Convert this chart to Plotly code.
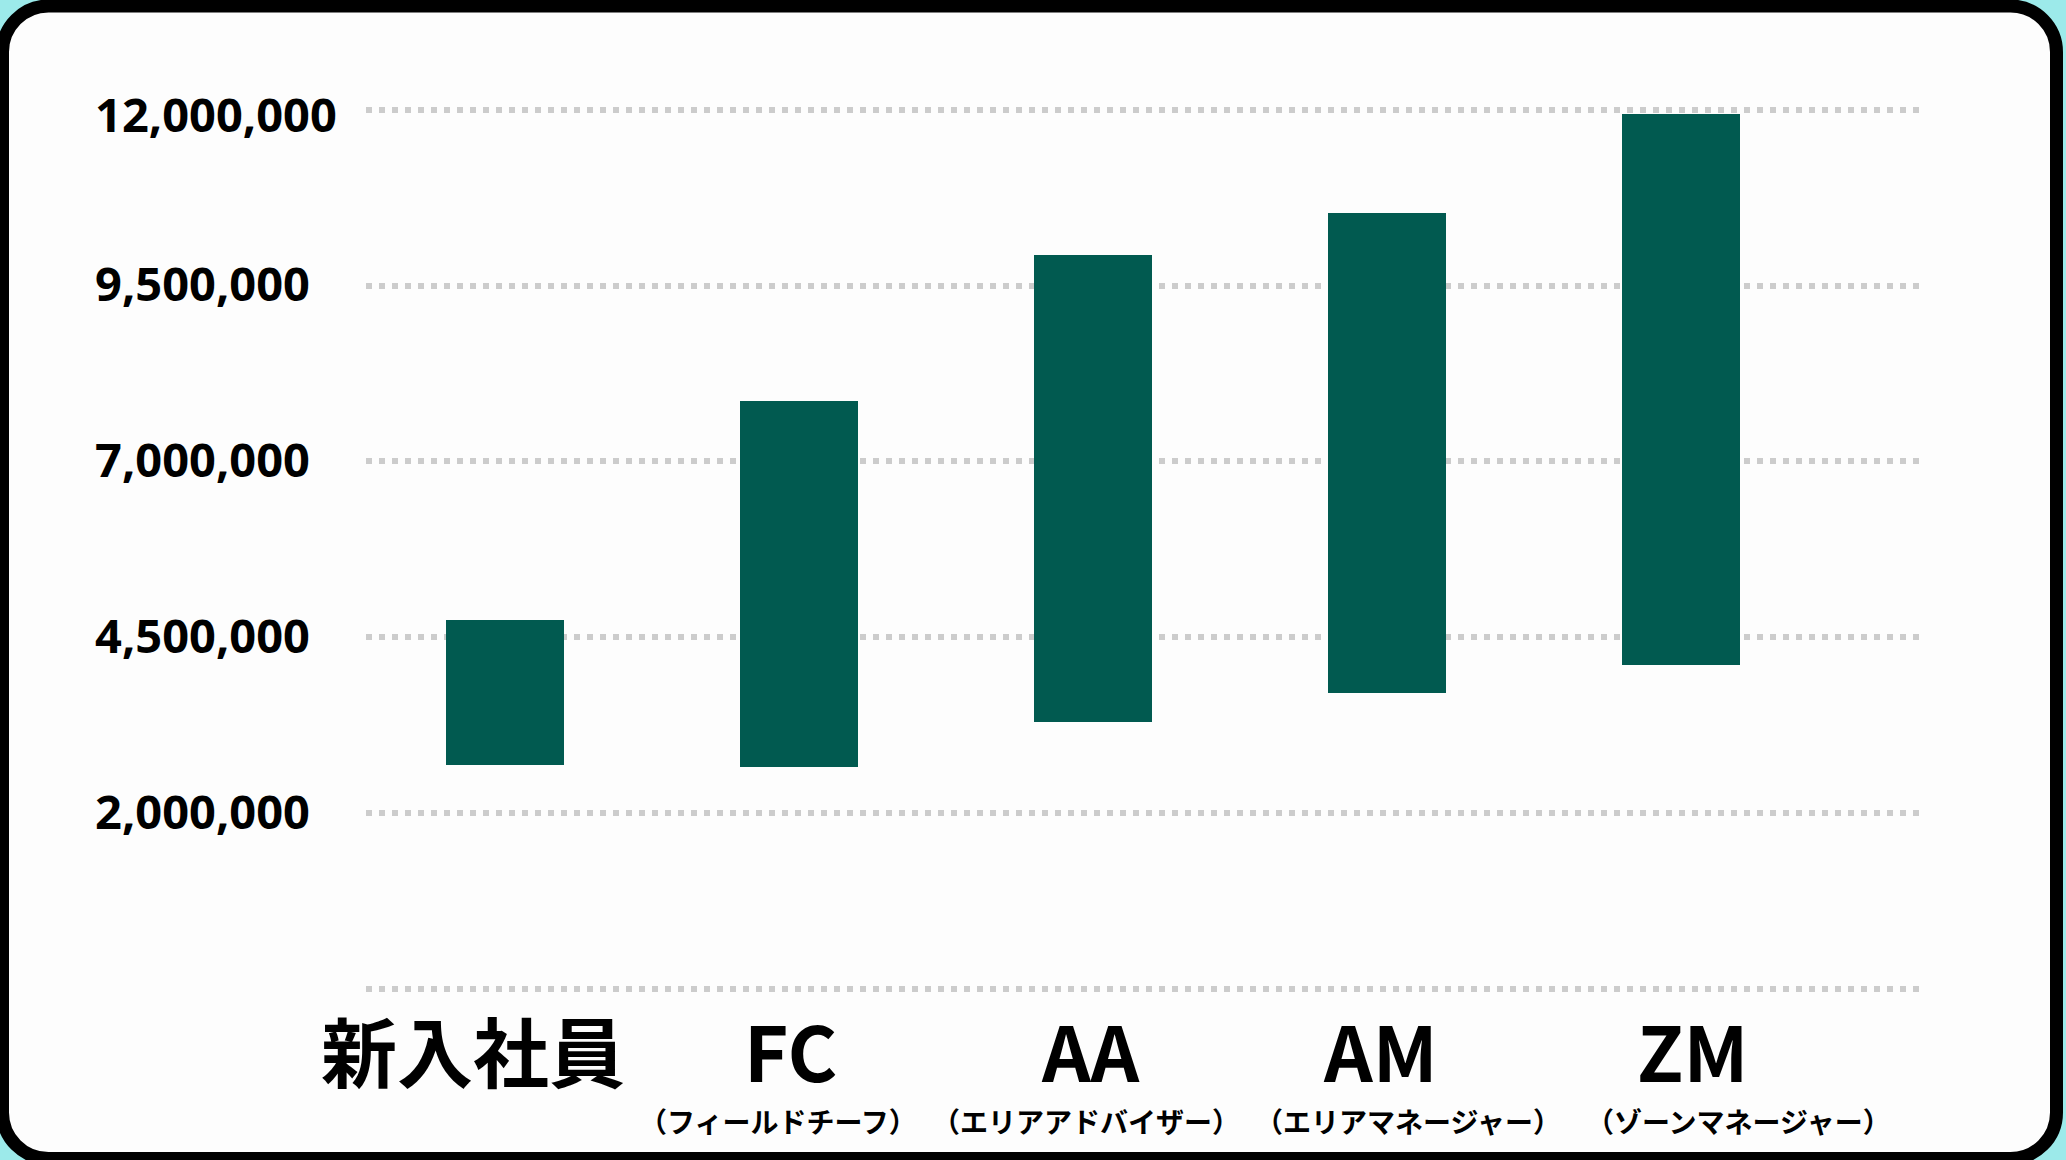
import plotly.graph_objects as go

# Canvas size in pixels
W, H = 2066, 1160

# ---- data -------------------------------------------------------------
roles = ["新入社員", "FC", "AA", "AM", "ZM"]
role_notes = ["", "（フィールドチーフ）", "（エリアアドバイザー）",
              "（エリアマネージャー）", "（ゾーンマネージャー）"]
salary_min = [2680000, 2660000, 3290000, 3710000, 4100000]
salary_max = [4750000, 7860000, 9940000, 10530000, 11940000]
tick_values = [2000000, 4500000, 7000000, 9500000, 12000000]
tick_labels = ["2,000,000", "4,500,000", "7,000,000", "9,500,000", "12,000,000"]
baseline_grid = -500000  # unlabeled bottom grid line

# ---- styling ----------------------------------------------------------
BAR_COLOR = "#015A50"
GRID_COLOR = "#cccccc"
BG_OUTER = "#9CEAEA"
CARD_FILL = "#FDFDFD"
NUM_FONT = "Noto Sans"
JP_FONT = "Noto Sans CJK JP"


def fx(px):
    return px / W


def fy(py):
    return 1 - py / H


# vertical scale: pixel rows of the 12M and 2M grid lines
Y_TOP_PX, Y_BOT_PX = 109.8, 813.0
PX_PER_UNIT = (Y_BOT_PX - Y_TOP_PX) / (12000000 - 2000000)
DOM_TOP_PX, DOM_BOT_PX = 80.0, 1000.0
y_range = [12000000 - (DOM_BOT_PX - Y_TOP_PX) / PX_PER_UNIT,
           12000000 + (Y_TOP_PX - DOM_TOP_PX) / PX_PER_UNIT]

# horizontal scale: category spacing and plot extent
X_LEFT_PX, X_RIGHT_PX = 366.0, 1924.0
CAT_STEP_PX = 294.0
CAT0_PX = 504.8
x0 = -(CAT0_PX - X_LEFT_PX) / CAT_STEP_PX
x_range = [x0, x0 + (X_RIGHT_PX - X_LEFT_PX) / CAT_STEP_PX]


def rounded_rect(x0, y0, x1, y1, r):
    k = 0.5523 * r
    pts = [
        ("M", [(x0 + r, y0)]),
        ("L", [(x1 - r, y0)]),
        ("C", [(x1 - r + k, y0), (x1, y0 + r - k), (x1, y0 + r)]),
        ("L", [(x1, y1 - r)]),
        ("C", [(x1, y1 - r + k), (x1 - r + k, y1), (x1 - r, y1)]),
        ("L", [(x0 + r, y1)]),
        ("C", [(x0 + r - k, y1), (x0, y1 - r + k), (x0, y1 - r)]),
        ("L", [(x0, y0 + r)]),
        ("C", [(x0, y0 + r - k), (x0 + r - k, y0), (x0 + r, y0)]),
    ]
    out = []
    for cmd, coords in pts:
        out.append(cmd + " ".join(f"{fx(a):.6f},{fy(b):.6f}" for a, b in coords))
    return " ".join(out) + " Z"


fig = go.Figure()

fig.add_trace(go.Bar(
    x=roles,
    y=[hi - lo for lo, hi in zip(salary_min, salary_max)],
    base=salary_min,
    width=0.4,
    marker=dict(color=BAR_COLOR, line=dict(width=0)),
    hoverinfo="skip",
))

# card frame
fig.add_shape(
    type="path", xref="paper", yref="paper", layer="below",
    path=rounded_rect(2.5, 6.0, 2056.5, 1158.5, 46),
    fillcolor=CARD_FILL, line=dict(color="#000000", width=13),
)

annotations = []

# y-axis labels, left aligned
label_shift = [2.5, 2.5, 2.5, 2.5, -4]
for v, t, s in zip(tick_values, tick_labels, label_shift):
    annotations.append(dict(
        x=fx(93), xref="paper", xanchor="left",
        y=v, yref="y", yanchor="middle", yshift=s,
        text=t, showarrow=False,
        font=dict(family=NUM_FONT, size=47, color="#000000", weight=700),
    ))

# category labels and their notes
title_shift = [-31.8, -8.8, -2.8, -6.8, 11.2]
note_shift = [0, -20.8, -6.8, 21.2, 57.2]
for i, (r, n) in enumerate(zip(roles, role_notes)):
    annotations.append(dict(
        x=r, xref="x", xanchor="center", xshift=title_shift[i],
        y=fy(1049), yref="paper", yanchor="middle",
        text=r, showarrow=False,
        font=dict(family=JP_FONT, size=76, color="#000000", weight=700),
    ))
    if n:
        annotations.append(dict(
            x=r, xref="x", xanchor="center", xshift=note_shift[i],
            y=fy(1121), yref="paper", yanchor="middle",
            text=n, showarrow=False,
            font=dict(family=JP_FONT, size=28, color="#000000", weight=700),
        ))

fig.update_layout(
    width=W, height=H, autosize=False,
    margin=dict(l=0, r=0, t=0, b=0, pad=0),
    paper_bgcolor=BG_OUTER,
    plot_bgcolor="rgba(0,0,0,0)",
    showlegend=False,
    bargap=0,
    annotations=annotations,
    xaxis=dict(
        type="category", categoryorder="array", categoryarray=roles,
        domain=[fx(X_LEFT_PX), fx(X_RIGHT_PX)], range=x_range,
        showticklabels=False, showgrid=False, zeroline=False, showline=False,
        ticks="", fixedrange=True,
    ),
    yaxis=dict(
        domain=[fy(DOM_BOT_PX), fy(DOM_TOP_PX)], range=y_range,
        tickmode="array", tickvals=[baseline_grid] + tick_values,
        showticklabels=False, ticks="",
        showgrid=True, gridcolor=GRID_COLOR, gridwidth=6, griddash="6px,7px",
        zeroline=False, showline=False, fixedrange=True,
    ),
)

fig.write_html("out.html", config={"displayModeBar": False})
